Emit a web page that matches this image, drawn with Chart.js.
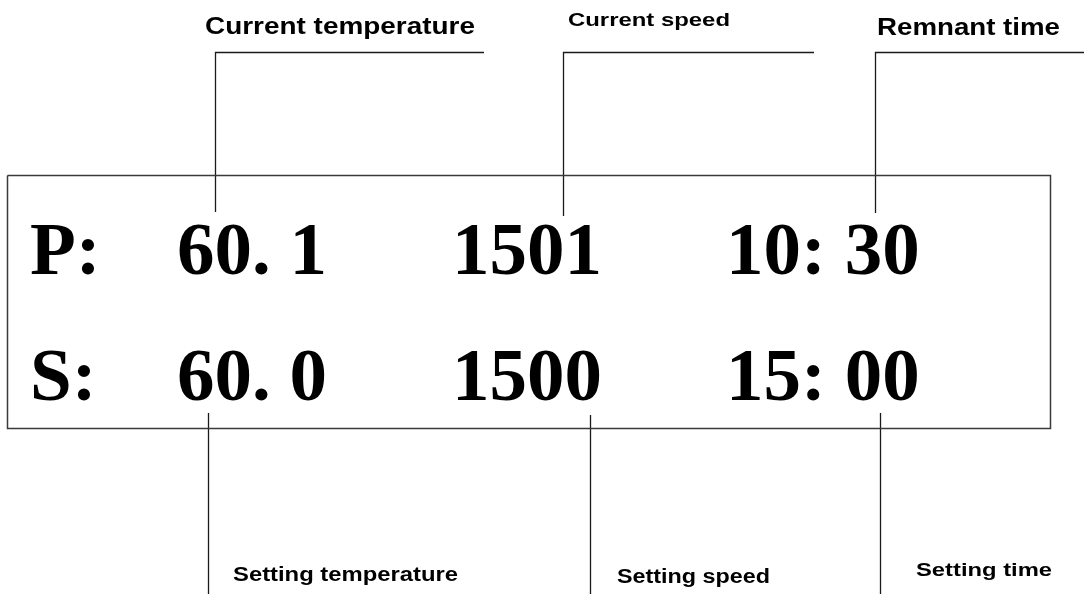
<!DOCTYPE html>
<html>
<head>
<meta charset="utf-8">
<script src="https://cdn.jsdelivr.net/npm/chart.js@4/dist/chart.umd.min.js"></script>
<style>
  html, body { margin: 0; padding: 0; background: #ffffff; }
  #wrap { width: 1084px; height: 594px; }
</style>
</head>
<body>
<div id="wrap"><canvas id="c" width="1084" height="594"></canvas></div>
<script>
// ---- data ----
const rowPrefixes = ['P:', 'S:'];
const currentLabels = ['Current temperature', 'Current speed', 'Remnant time'];
const settingLabels = ['Setting temperature', 'Setting speed', 'Setting time'];
const currentValues = ['60. 1', '1501', '10: 30'];
const settingValues = ['60. 0', '1500', '15: 00'];

// ---- layout (pixel space of the 1084x594 canvas) ----
const W = 1084, H = 594;
const prefixX = 30;
const valueColumnsX = [177, 452, 726];
const rowBaselineY = [274, 400];
const panel = { x0: 7.5, y0: 175.5, x1: 1050.5, y1: 428.5 };
const topLeaders = [
  { x: 215.5, yTop: 52.5, yBottom: 212, xEnd: 484 },
  { x: 563.5, yTop: 52.5, yBottom: 216, xEnd: 814 },
  { x: 875.5, yTop: 52.5, yBottom: 213, xEnd: 1084 }
];
const bottomLeaders = [
  { x: 208.5, yTop: 413 },
  { x: 590.5, yTop: 415 },
  { x: 880.5, yTop: 413 }
];
// label boxes: left x, vertical centre y, font size, rendered width
const topLabelPos = [
  { x: 205, y: 27, size: 24, w: 270 },
  { x: 568, y: 21, size: 19, w: 162 },
  { x: 877, y: 28, size: 24, w: 183 }
];
const bottomLabelPos = [
  { x: 233, y: 575, size: 20, w: 225 },
  { x: 617, y: 577, size: 20, w: 153 },
  { x: 916, y: 571, size: 19, w: 136 }
];
const valueFont = "bold 75px 'Liberation Serif', 'DejaVu Serif', serif";
const labelFamily = "'Liberation Sans', Arial, sans-serif";

// ---- build line datasets ----
function lineDataset(points, color, width) {
  return {
    data: points.map(p => ({ x: p[0], y: p[1] })),
    showLine: true, fill: false, tension: 0,
    pointRadius: 0, pointHoverRadius: 0,
    borderColor: color, borderWidth: width
  };
}
const datasets = [];
datasets.push(lineDataset([
  [panel.x0, panel.y0], [panel.x1, panel.y0], [panel.x1, panel.y1],
  [panel.x0, panel.y1], [panel.x0, panel.y0]
], '#3a3a3a', 1.5));
topLeaders.forEach(l => datasets.push(lineDataset(
  [[l.xEnd, l.yTop], [l.x, l.yTop], [l.x, l.yBottom]], '#1a1a1a', 1.3)));
bottomLeaders.forEach(l => datasets.push(lineDataset(
  [[l.x, l.yTop], [l.x, H]], '#1a1a1a', 1.3)));

// ---- text plugin ----
function drawLabel(ctx, xs, ys, text, p) {
  ctx.font = 'bold ' + p.size + 'px ' + labelFamily;
  const natural = ctx.measureText(text).width;
  const x0 = xs.getPixelForValue(p.x);
  const x1 = xs.getPixelForValue(p.x + p.w);
  const sx = (x1 - x0) / natural;
  ctx.save();
  ctx.translate(x0, ys.getPixelForValue(p.y));
  ctx.scale(sx, 1);
  ctx.fillText(text, 0, 0);
  ctx.restore();
}
const textPlugin = {
  id: 'panelText',
  afterDatasetsDraw(chart) {
    const ctx = chart.ctx;
    const xs = chart.scales.x, ys = chart.scales.y;
    ctx.save();
    ctx.fillStyle = '#000000';
    ctx.font = valueFont;
    ctx.textAlign = 'left';
    ctx.textBaseline = 'alphabetic';
    [currentValues, settingValues].forEach((row, r) => {
      const y = ys.getPixelForValue(rowBaselineY[r]);
      ctx.fillText(rowPrefixes[r], xs.getPixelForValue(prefixX), y);
      row.forEach((v, i) => ctx.fillText(v, xs.getPixelForValue(valueColumnsX[i]), y));
    });
    ctx.textBaseline = 'middle';
    currentLabels.forEach((t, i) => drawLabel(ctx, xs, ys, t, topLabelPos[i]));
    settingLabels.forEach((t, i) => drawLabel(ctx, xs, ys, t, bottomLabelPos[i]));
    ctx.restore();
  }
};

new Chart(document.getElementById('c'), {
  type: 'scatter',
  data: { datasets },
  options: {
    responsive: false,
    animation: false,
    layout: { padding: 0 },
    plugins: { legend: { display: false }, tooltip: { enabled: false }, title: { display: false } },
    events: [],
    scales: {
      x: { type: 'linear', min: 0, max: W, display: false },
      y: { type: 'linear', min: 0, max: H, reverse: true, display: false }
    }
  },
  plugins: [textPlugin]
});
</script>
</body>
</html>
